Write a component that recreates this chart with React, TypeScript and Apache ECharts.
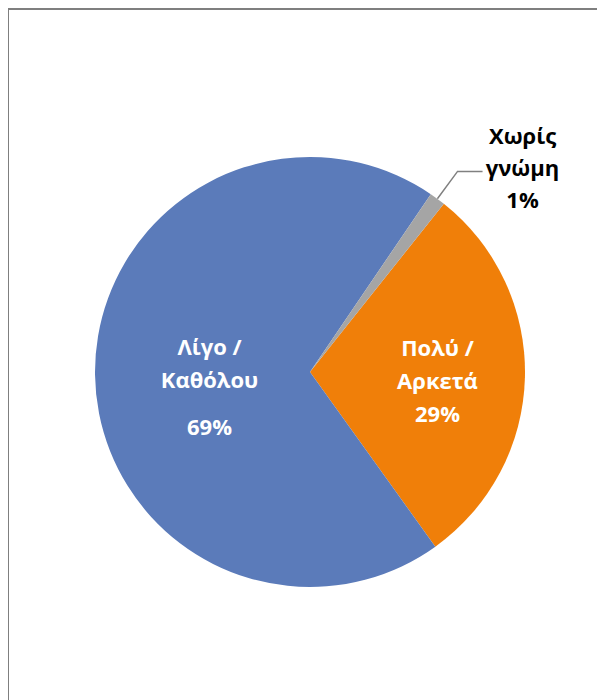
import React, { useEffect, useRef } from "react";
import * as echarts from "echarts";

const categories = ["Πολύ /\nΑρκετά", "Λίγο /\nΚαθόλου", "Χωρίς\nγνώμη"];
const values = [29.4, 69.4, 1.2];
const colors = ["#F07F09", "#5B7BBA", "#A5A5A5"];

export default function App() {
  const ref = useRef<HTMLDivElement>(null);
  useEffect(() => {
    if (!ref.current) return;
    const chart = echarts.init(ref.current, undefined, { renderer: "svg" });
    const font = "'Open Sans', 'Noto Sans', sans-serif";
    const data = categories.map((name, i) => {
      const pct = Math.round(values[i]);
      const base: any = { name, value: values[i], itemStyle: { color: colors[i] } };
      if (i === 0) {
        base.label = {
          position: "inside",
          formatter: `{a|Πολύ /}\n{a|Αρκετά}\n{a|${pct}%}`,
        };
      } else if (i === 1) {
        base.label = {
          position: "inside",
          formatter: `{a|Λίγο /}\n{a|Καθόλου}\n{p|${pct}%}`,
        };
      } else {
        base.label = {
          position: "outside",
          formatter: `{c|Χωρίς}\n{c|γνώμη}\n{c|${pct}%}`,
          distanceToLabelLine: 1,
          padding: [0, 0, 8, 0],
        };
        base.labelLine = {
          show: true,
          length: 34,
          length2: 25,
          lineStyle: { color: "#808080", width: 1.5 },
        };
      }
      return base;
    });
    chart.setOption({
      animation: false,
      series: [
        {
          type: "pie",
          center: [301, 362],
          radius: 215,
          startAngle: 51.5,
          clockwise: true,
          avoidLabelOverlap: false,
          data,
          label: {
            show: true,
            fontFamily: font,
            fontWeight: "bold",
            fontSize: 22,
            rich: {
              a: { color: "#fff", fontFamily: font, fontWeight: "bold", fontSize: 22, lineHeight: 33, align: "center" },
              p: { color: "#fff", fontFamily: font, fontWeight: "bold", fontSize: 22, lineHeight: 62, align: "center" },
              c: {
                color: "#000",
                fontFamily: font,
                fontWeight: "bold",
                fontSize: 22,
                lineHeight: 32,
                width: 78,
                align: "center",
              },
            },
          },
          labelLayout: (params: any) => {
            if (params.dataIndex === 0) return { dx: 17, dy: 5 };
            if (params.dataIndex === 1) return { dx: 10, dy: 20 };
            return {};
          },
          emphasis: { disabled: true },
        },
      ],
    });
    return () => chart.dispose();
  }, []);
  return (
    <div
      style={{
        marginLeft: -1,
        width: 598,
        height: 692,
        borderLeft: "2px solid #7F7F7F",
        borderTop: "2px solid #7F7F7F",
        boxSizing: "border-box",
      }}
    >
      <div ref={ref} style={{ width: 596, height: 690 }} />
    </div>
  );
}
